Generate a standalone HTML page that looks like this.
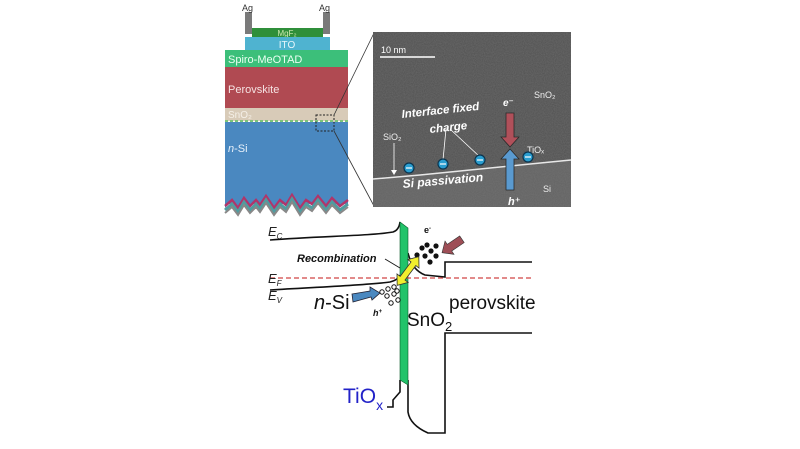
<!DOCTYPE html>
<html><head><meta charset="utf-8"><style>html,body{margin:0;padding:0;background:#fff}svg{display:block}</style></head>
<body>
<svg width="800" height="449" viewBox="0 0 800 449" xmlns="http://www.w3.org/2000/svg" font-family="Liberation Sans, DejaVu Sans, sans-serif">
<defs>
<filter id="noise" x="0" y="0" width="1" height="1" filterUnits="objectBoundingBox"><feTurbulence type="fractalNoise" baseFrequency="0.9" numOctaves="2" seed="3"/><feColorMatrix type="matrix" values="0 0 0 0 0.2 0 0 0 0 0.2 0 0 0 0 0.2 0 0 0 0.6 0"/></filter>
<clipPath id="tem"><rect x="373" y="32" width="198" height="175"/></clipPath>
</defs>
<rect x="245" y="12" width="7" height="22" fill="#7a7a7a"/>
<rect x="323" y="12" width="7" height="22" fill="#7a7a7a"/>
<text x="242" y="11" font-size="9" fill="#333">Ag</text>
<text x="319" y="11" font-size="9" fill="#333">Ag</text>
<rect x="252" y="28" width="71" height="9" fill="#2f8f3a"/>
<text x="287" y="36" font-size="8" fill="#cfe9b0" text-anchor="middle">MgF₂</text>
<rect x="245" y="37" width="85" height="13" fill="#4fb3d0"/>
<text x="287" y="48" font-size="10" fill="#e8f6fb" text-anchor="middle">ITO</text>
<rect x="225" y="50" width="123" height="17" fill="#3cbf7a"/>
<text x="228" y="63" font-size="11" fill="#eafff2">Spiro-MeOTAD</text>
<rect x="225" y="67" width="123" height="41" fill="#b04a52"/>
<text x="228" y="93" font-size="11" fill="#f5e2e2">Perovskite</text>
<rect x="225" y="108" width="123" height="13" fill="#d8cbb8"/>
<text x="228" y="118" font-size="10" fill="#f5f0e8">SnO₂</text>
<line x1="225" y1="121" x2="348" y2="121" stroke="#7cc47a" stroke-width="2" stroke-dasharray="3,2"/>
<rect x="225" y="122" width="123" height="82" fill="#4a88c0"/>
<text x="228" y="152" font-size="11" fill="#e6f0fa"><tspan font-style="italic">n</tspan>-Si</text>
<polygon points="225,204 225,208 232,200 238,208 244,198 250,206 256,200 260,205 266,196 274,208 280,200 286,205 292,195 300,208 306,200 312,204 318,196 326,206 332,198 340,206 348,200 348,204" fill="#4a88c0"/>
<polyline points="225,206 232,200 238,208 244,198 250,206 256,200 260,205 266,196 274,208 280,200 286,205 292,195 300,208 306,200 312,204 318,196 326,206 332,198 340,206 348,200" fill="none" stroke="#b0356a" stroke-width="2.5"/>
<polyline points="225,210 232,204 238,212 244,202 250,210 256,204 260,209 266,200 274,212 280,204 286,209 292,199 300,212 306,204 312,208 318,200 326,210 332,202 340,210 348,204" fill="none" stroke="#4f9ca0" stroke-width="3"/>
<polyline points="225,213 232,207 238,215 244,205 250,213 256,207 260,212 266,203 274,215 280,207 286,212 292,202 300,215 306,207 312,211 318,203 326,213 332,205 340,213 348,207" fill="none" stroke="#888" stroke-width="2"/>
<rect x="316" y="115" width="18" height="16" fill="none" stroke="#222" stroke-width="1" stroke-dasharray="2,1.5"/>
<line x1="334" y1="115" x2="374" y2="33" stroke="#333" stroke-width="0.8"/>
<line x1="334" y1="131" x2="374" y2="206" stroke="#333" stroke-width="0.8"/>
<g clip-path="url(#tem)">
<rect x="373" y="32" width="198" height="175" fill="#505050"/>
<polygon points="373,180 571,160 571,207 373,207" fill="#626262"/>
<rect x="373" y="32" width="198" height="175" filter="url(#noise)"/>
</g>
<polyline points="373,179 420,175 470,170 520,165 571,160" fill="none" stroke="#e8e8e8" stroke-width="1.5"/>
<line x1="380" y1="57" x2="435" y2="57" stroke="#fff" stroke-width="1.5"/>
<text x="381" y="53" font-size="9" fill="#fff">10 nm</text>
<text x="534" y="98" font-size="9" fill="#eee">SnO₂</text>
<text x="503" y="106" font-size="10" fill="#fff" font-weight="bold" font-style="italic">e⁻</text>
<text x="402" y="118" font-size="11.5" fill="#fff" font-weight="bold" font-style="italic" transform="rotate(-6 402 118)">Interface fixed</text>
<text x="430" y="133" font-size="11.5" fill="#fff" font-weight="bold" font-style="italic" transform="rotate(-6 430 133)">charge</text>
<line x1="446" y1="129" x2="443" y2="160" stroke="#fff" stroke-width="0.8"/>
<line x1="450" y1="129" x2="480" y2="157" stroke="#fff" stroke-width="0.8"/>
<text x="383" y="140" font-size="9" fill="#eee">SiO₂</text>
<line x1="394" y1="143" x2="394" y2="172" stroke="#fff" stroke-width="0.8"/>
<polygon points="391,170 397,170 394,175" fill="#fff"/>
<text x="527" y="153" font-size="9" fill="#eee">TiOₓ</text>
<text x="403" y="188" font-size="12" fill="#fff" font-weight="bold" font-style="italic" transform="rotate(-5 403 188)">Si passivation</text>
<text x="543" y="192" font-size="9" fill="#eee">Si</text>
<text x="508" y="205" font-size="11" fill="#fff" font-weight="bold" font-style="italic">h⁺</text>
<g fill="#2a9ed0" stroke="#0b3550" stroke-width="1.2">
<circle cx="409" cy="168" r="5"/><circle cx="443" cy="164" r="5"/><circle cx="480" cy="160" r="5"/><circle cx="528" cy="157" r="5"/></g>
<g stroke="#fff" stroke-width="1.2"><line x1="406" y1="168" x2="412" y2="168"/><line x1="440" y1="164" x2="446" y2="164"/><line x1="477" y1="160" x2="483" y2="160"/><line x1="525" y1="157" x2="531" y2="157"/></g>
<polygon points="506,113 514,113 514,137 519,137 510,147 501,137 506,137" fill="#b0505a" stroke="#2a2a2a" stroke-width="0.8"/>
<polygon points="510,149 519,159 514,159 514,190 506,190 506,159 501,159" fill="#5a9ad0" stroke="#2a2a2a" stroke-width="0.8"/>
<g fill="none" stroke="#111" stroke-width="1.6">
<path d="M270,240 C320,236 370,236 393,232 Q399,230 400,222"/>
<path d="M270,290 C320,287 370,285 390,282 Q398,280 400,275"/>
<path d="M408,253 Q412,270 425,275 L445,277 L445,262 L532,262"/>
<path d="M532,333 L445,333 L445,433 L428,433 Q410,425 408,412 L408,380"/>
<path d="M400,380 L400,392 L393,400 L393,407 L387,407"/>
</g>
<polygon points="400,222 408,228 408,385 400,380" fill="#22c36a" stroke="#0a5a2a" stroke-width="0.6"/>
<line x1="270" y1="278" x2="532" y2="278" stroke="#d04545" stroke-width="1.2" stroke-dasharray="5,3"/>
<text x="268" y="236" font-size="13" font-style="italic" fill="#222">E<tspan font-size="8" dy="3">C</tspan></text>
<text x="268" y="283" font-size="13" font-style="italic" fill="#222">E<tspan font-size="8" dy="3">F</tspan></text>
<text x="268" y="300" font-size="13" font-style="italic" fill="#222">E<tspan font-size="8" dy="3">V</tspan></text>
<text x="297" y="262" font-size="11" font-weight="bold" font-style="italic" fill="#111">Recombination</text>
<line x1="385" y1="259" x2="400" y2="268" stroke="#111" stroke-width="0.8"/>
<text x="314" y="309" font-size="20" fill="#111"><tspan font-style="italic">n</tspan>-Si</text>
<text x="449" y="309" font-size="19" fill="#111">perovskite</text>
<text x="407" y="326" font-size="19" fill="#111">SnO<tspan font-size="13" dy="5">2</tspan></text>
<text x="343" y="403" font-size="21" fill="#2222c8">TiO<tspan font-size="14" dy="7">x</tspan></text>
<text x="424" y="233" font-size="9" font-weight="bold" fill="#111">e<tspan font-size="6" dy="-3">-</tspan></text>
<text x="373" y="316" font-size="9" font-weight="bold" font-style="italic" fill="#111">h<tspan font-size="6" dy="-3">+</tspan></text>
<g fill="#111"><circle cx="422" cy="248" r="2.6"/><circle cx="427" cy="245" r="2.6"/><circle cx="431" cy="251" r="2.6"/><circle cx="425" cy="256" r="2.6"/><circle cx="436" cy="246" r="2.6"/><circle cx="436" cy="256" r="2.6"/><circle cx="430" cy="262" r="2.6"/><circle cx="417" cy="255" r="2.6"/></g>
<g fill="none" stroke="#111" stroke-width="1"><circle cx="382" cy="292" r="2.2"/><circle cx="388" cy="289" r="2.2"/><circle cx="394" cy="287" r="2.2"/><circle cx="387" cy="296" r="2.2"/><circle cx="394" cy="294" r="2.2"/><circle cx="398" cy="300" r="2.2"/><circle cx="391" cy="303" r="2.2"/><circle cx="397" cy="291" r="2.2"/></g>
<g transform="translate(452,246) rotate(-34)">
<polygon points="-12,0 -3,-8 -3,-4 12,-4 12,4 -3,4 -3,8" fill="#9e4e56" stroke="#333" stroke-width="0.6"/>
</g>
<polygon points="352,294 370,291 370,287 380,293 372,300 371,297 353,302" fill="#4a88c0" stroke="#223" stroke-width="0.8"/>
<g transform="translate(408,271) rotate(-53)">
<polygon points="-18,0 -9,-7 -9,-3 9,-3 9,-7 18,0 9,7 9,3 -9,3 -9,7" fill="#f1ef2e" stroke="#333" stroke-width="0.8"/>
</g>
</svg>
</body></html>
